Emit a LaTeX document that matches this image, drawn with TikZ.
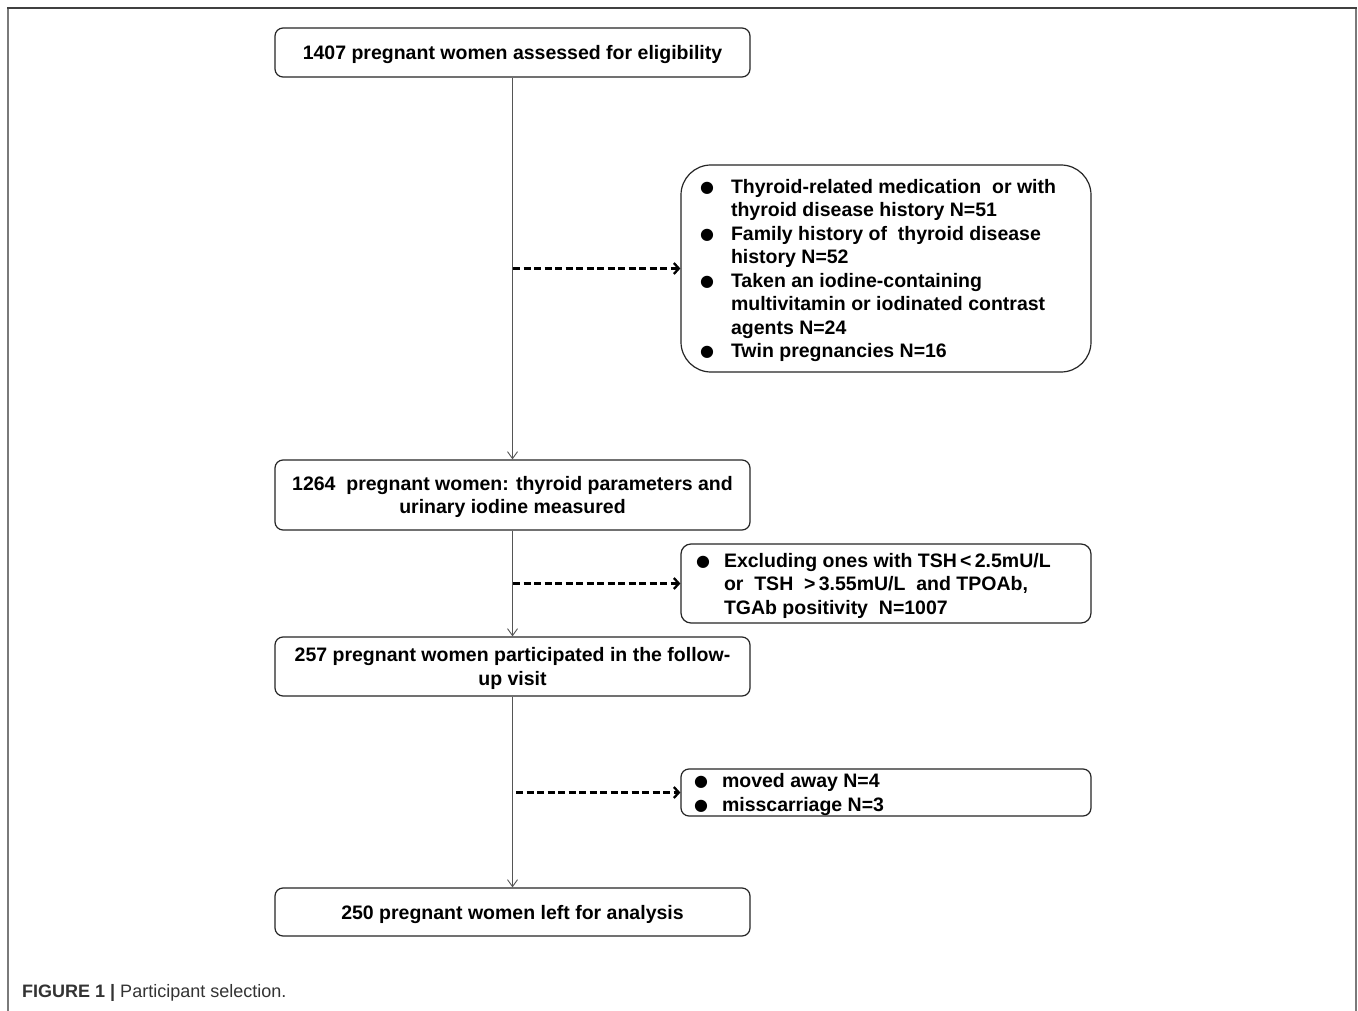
\documentclass[tikz,border=0pt]{standalone}
\usepackage{fontspec}
\setmainfont{Liberation Sans}
\newfontfamily\symf{DejaVu Sans}
\usetikzlibrary{arrows.meta}
\newcommand\bul{\raisebox{1pt}{\symf\fontsize{16}{16}\selectfont ●}}
\newcommand\bitem[2]{\makebox[#1][l]{\bul}#2}
\newcommand\bcont[2]{\makebox[#1][l]{}#2}
\newcommand\mtext[1]{\raisebox{-2.5pt}[\height][\depth]{\begin{tabular}{@{}c@{}}#1\end{tabular}}}
\newcommand\etext[2]{\raisebox{-2pt}[\height][\depth]{\parbox{#1}{\raggedright #2}}}
\definecolor{capgray}{HTML}{333333}
\definecolor{framegray}{HTML}{7A7A7A}
\definecolor{linegray}{HTML}{555555}
\tikzset{
  x=1pt, y=-1pt,
  mainbox/.style={draw=black!85, line width=1.2pt, rounded corners=8pt, minimum width=475pt,
    inner sep=0pt, font=\bfseries\fontsize{19.5}{23.5}\selectfont},
  exbox/.style={draw=black!85, line width=1.2pt, inner sep=0pt, minimum width=410pt,
    font=\bfseries\fontsize{19.5}{23.5}\selectfont},
  flow/.style={draw=linegray, line width=0.9pt, -{Straight Barb[length=7pt,width=10pt,line width=0.9pt]}},
  exarrow/.style={draw=black, line width=2.3pt, dash pattern=on 7pt off 3.5pt,
    -{Straight Barb[length=5pt,width=11pt,line width=2.3pt]}},
}
\begin{document}
\begin{tikzpicture}
\useasboundingbox (0,0) rectangle (1358,1011);
\fill[white] (0,0) rectangle (1358,1011);
% outer frame
\draw[framegray, line width=1.5pt] (8,1011) -- (8,8);
\draw[framegray, line width=1.5pt] (1356,8) -- (1356,1011);
\draw[black!75, line width=1.5pt] (7.25,8) -- (1356.75,8);

% main flow boxes
\node[mainbox, minimum height=49pt] (b1) at (512.5,52.5) {\mtext{1407 pregnant women assessed for eligibility}};
\node[mainbox, minimum height=70pt] (b3) at (512.5,495) {\mtext{1264~ pregnant women: thyroid parameters and\\urinary iodine measured}};
\node[mainbox, minimum height=59pt] (b5) at (512.5,666.5) {\mtext{257 pregnant women participated in the follow-\\up visit}};
\node[mainbox, minimum height=48pt] (b7) at (512.5,912) {\mtext{250 pregnant women left for analysis}};

% exclusion boxes
\node[exbox, rounded corners=30pt, minimum height=207pt] (e1) at (886,268.5) {\etext{372pt}{%
\bitem{31pt}{Thyroid-related medication~ or with}\\
\bcont{31pt}{thyroid disease history N=51}\\
\bitem{31pt}{Family history of~ thyroid disease}\\
\bcont{31pt}{history N=52}\\
\bitem{31pt}{Taken an iodine-containing}\\
\bcont{31pt}{multivitamin or iodinated contrast}\\
\bcont{31pt}{agents N=24}\\
\bitem{31pt}{Twin pregnancies N=16}}};

\node[exbox, rounded corners=10pt, minimum height=79pt] (e2) at (886,583.5) {\etext{380pt}{%
\bitem{28pt}{Excluding ones with TSH\,<\,2.5mU/L}\\
\bcont{28pt}{or~ TSH~ >\,3.55mU/L~ and TPOAb,}\\
\bcont{28pt}{TGAb positivity~ N=1007}}};

\node[exbox, rounded corners=8pt, minimum height=47pt] (e3) at (886,792.5) {\etext{384pt}{%
\bitem{28pt}{moved away N=4}\\
\bitem{28pt}{misscarriage N=3}}};

% connectors
\draw[flow] (b1.south) -- (b3.north);
\draw[flow] (b3.south) -- (b5.north);
\draw[flow] (b5.south) -- (b7.north);

\coordinate (d1) at (513,268.5);
\coordinate (d2) at (513,583.5);
\coordinate (d3) at (516,792.5);
\draw[exarrow] (d1) -- (e1.west);
\draw[exarrow] (d2) -- (e2.west);
\draw[exarrow] (d3) -- (e3.west);

% caption
\node[anchor=west, inner sep=0pt, text=capgray, font=\fontsize{18}{20}\selectfont] (cap) at (22,993) {\textbf{FIGURE 1} \textbf{|} Participant selection.};
\end{tikzpicture}
\end{document}
